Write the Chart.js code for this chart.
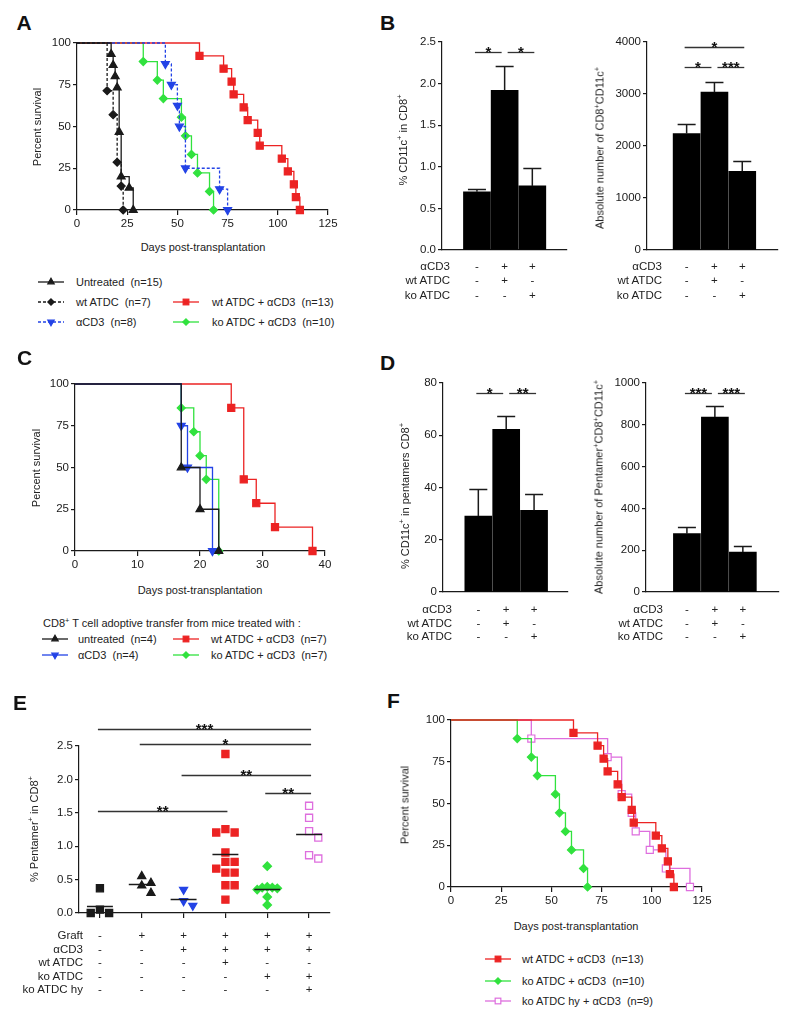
<!DOCTYPE html>
<html>
<head>
<meta charset="utf-8">
<title>ATDC survival and CD11c+ CD8+ T cells</title>
<script src="https://cdn.jsdelivr.net/npm/chart.js@4.4.1/dist/chart.umd.min.js"></script>
<style>
  body { margin: 0; background: #fff; }
  #page { position: relative; width: 800px; height: 1021px; overflow: hidden;
          font-family: "Liberation Sans", Arial, sans-serif; color: #222; }
  #page canvas { position: absolute; }
  #page svg { position: absolute; overflow: visible; }
  .t { position: absolute; white-space: pre; line-height: 1; }
  .letter { font-weight: bold; color: #111; }
  .rot { transform: translate(-50%, -50%) rotate(-90deg); }
  sup { font-size: 68%; line-height: 0; vertical-align: 0.55em; }
</style>
</head>
<body>
<div id="page"></div>
<script>
// --- A: survival after transplantation (day, % survival) ---
const aUntreatedDays = [0, 17, 18, 19, 20, 21, 22, 26, 28];
const aUntreatedSurv = [100, 93.3, 86.7, 80, 73.3, 46.7, 20, 13.3, 0];
const aWtDays = [0, 15, 18, 20, 22, 23];
const aWtSurv = [100, 71.4, 57.1, 28.6, 14.3, 0];
const aCd3Days = [0, 44, 47, 50, 51, 54, 71, 75];
const aCd3Surv = [100, 87.5, 75, 62.5, 50, 25, 12.5, 0];
const aWtCd3Days = [0, 61, 73, 77, 78, 83, 85, 90, 91, 102, 105, 108, 109, 111];
const aWtCd3Surv = [100, 92.3, 84.6, 76.9, 69.2, 61.5, 53.8, 46.2, 38.5, 30.8, 23.1, 15.4, 7.7, 0];
const aKoCd3Days = [0, 33, 40, 43, 52, 54, 57, 60, 66, 68];
const aKoCd3Surv = [100, 88.9, 77.8, 66.7, 55.6, 44.4, 33.3, 22.2, 11.1, 0];

// --- B: CD11c+ among CD8+ (mean, sem) ---
const bdGroups = ['untreated', 'wt ATDC + aCD3', 'ko ATDC + aCD3'];
const bdRowLabels = ['αCD3', 'wt ATDC', 'ko ATDC'];
const bdRowMarks = [['-', '+', '+'], ['-', '+', '-'], ['-', '-', '+']];
const bPctMean = [0.70, 1.92, 0.77];
const bPctSem = [0.03, 0.29, 0.22];
const bAbsMean = [2240, 3035, 1515];
const bAbsSem = [180, 200, 200];
const bPctSig = [[0, 1, 2.38, '*'], [1, 2, 2.38, '*']];
const bAbsSig = [[0, 2, 3900, '*'], [0, 1, 3520, '*'], [1, 2, 3520, '***']];

// --- C: survival after CD8+ T cell transfer ---
const cUntreatedDays = [0, 17, 20, 23];
const cUntreatedSurv = [100, 50, 25, 0];
const cCd3Days = [0, 17, 18, 22];
const cCd3Surv = [100, 75, 50, 0];
const cWtCd3Days = [0, 25, 27, 29, 32, 38];
const cWtCd3Surv = [100, 85.7, 42.9, 28.6, 14.3, 0];
const cKoCd3Days = [0, 17, 19, 20, 21, 23];
const cKoCd3Surv = [100, 85.7, 71.4, 57.1, 42.9, 0];

// --- D: CD11c+ among pentamer+ CD8+ ---
const dPctMean = [29.1, 62.3, 31.3];
const dPctSem = [10.2, 4.9, 6.2];
const dAbsMean = [279, 837, 191];
const dAbsSem = [32, 54, 27];
const dPctSig = [[0, 1, 76.2, '*'], [1, 2, 76.2, '**']];
const dAbsSig = [[0, 1, 952, '***'], [1, 2, 952, '***']];

// --- E: % pentamer+ in CD8+ per mouse ---
const eRowLabels = ['Graft', 'αCD3', 'wt ATDC', 'ko ATDC', 'ko ATDC hy'];
const eRowMarks = [
  ['-', '+', '+', '+', '+', '+'],
  ['-', '-', '+', '+', '+', '+'],
  ['-', '-', '-', '+', '-', '-'],
  ['-', '-', '-', '-', '+', '+'],
  ['-', '-', '-', '-', '-', '+']
];
const eNoGraft = [0.37, 0.0, 0.05, 0.0];
const eGraft = [0.55, 0.45, 0.30, 0.41];
const eCd3 = [0.35, 0.11, 0.18];
const eWtCd3 = [2.38, 1.255, 1.205, 1.205, 0.905, 0.765, 0.765, 0.665, 0.605, 0.605, 0.415, 0.415, 0.2];
const eKoCd3 = [0.70, 0.39, 0.38, 0.38, 0.37, 0.35, 0.24, 0.12];
const eKoHyCd3 = [1.605, 1.425, 1.225, 1.13, 0.815, 0.865];
const eSig = [[0, 5, 2.755, '***'], [1, 5, 2.525, '*'], [2, 5, 2.07, '**'], [4, 5, 1.795, '**'], [0, 3, 1.53, '**']];

// --- F: survival, ko ATDC hy ---
const fWtCd3Days = [0, 61, 73, 76, 78, 83, 85, 90, 91, 102, 105, 108, 109, 111];
const fWtCd3Surv = [100, 92.3, 84.6, 76.9, 69.2, 61.5, 53.8, 46.2, 38.5, 30.8, 23.1, 15.4, 7.7, 0];
const fKoCd3Days = [0, 33, 40, 43, 52, 54, 57, 60, 66, 68];
const fKoCd3Surv = [100, 88.9, 77.8, 66.7, 55.6, 44.4, 33.3, 22.2, 11.1, 0];
const fKoHyDays = [0, 40, 78, 85, 90, 92, 99, 107, 119];
const fKoHySurv = [100, 88.9, 77.8, 55.6, 44.4, 33.3, 22.2, 11.1, 0];

const FONT = '"Liberation Sans", Arial, sans-serif';
const INK = '#1a1a1a';
const RED = '#ec2323';
const GREEN = '#31e23e';
const BLUE = '#2343e6';
const PINK = '#de6ede';
const Y_W = 40, X_H = 22;
const tickFont = { family: FONT, size: 11.5 };

Chart.defaults.font.family = FONT;
Chart.defaults.color = INK;

const page = document.getElementById('page');

// ---------- helpers for text ----------
function addText(html, x, cy, size, align, cls) {
  const el = document.createElement('div');
  el.className = 't' + (cls ? ' ' + cls : '');
  el.innerHTML = html;
  el.style.fontSize = size + 'px';
  el.style.top = (cy - size / 2) + 'px';
  if (align === 'right') el.style.right = (800 - x) + 'px';
  else if (align === 'center') { el.style.left = x + 'px'; el.style.transform = 'translateX(-50%)'; }
  else el.style.left = x + 'px';
  page.appendChild(el);
  return el;
}

function addRotated(html, cx, cy, size) {
  const el = document.createElement('div');
  el.className = 't rot';
  el.innerHTML = html;
  el.style.fontSize = size + 'px';
  el.style.left = cx + 'px';
  el.style.top = cy + 'px';
  page.appendChild(el);
}

function letter(ch, x, capTop) {
  addText(ch, x, capTop - 2.8 + 10.5, 21, 'left', 'letter');
}

// marker shape in svg, same shapes as Chart.js point styles
function markerSvg(s, cx, cy) {
  const r = s.size * 0.8;
  const fill = s.open ? '#fff' : s.color;
  const st = `fill="${fill}" stroke="${s.color}" stroke-width="1.2"`;
  if (s.marker === 'rect') {
    const h = r * Math.SQRT1_2;
    return `<rect x="${cx - h}" y="${cy - h}" width="${2 * h}" height="${2 * h}" ${st}/>`;
  }
  if (s.marker === 'rectRot') {
    return `<polygon points="${cx},${cy - r} ${cx + r},${cy} ${cx},${cy + r} ${cx - r},${cy}" ${st}/>`;
  }
  const dir = s.marker === 'triangleDown' ? -1 : 1;
  return `<polygon points="${cx},${cy - dir * r} ${cx + 0.866 * r},${cy + dir * r / 2} ${cx - 0.866 * r},${cy + dir * r / 2}" ${st}/>`;
}

function legendItem(s, sx, tx, cy) {
  const ns = 'http://www.w3.org/2000/svg';
  const svg = document.createElementNS(ns, 'svg');
  svg.setAttribute('width', 26);
  svg.setAttribute('height', 12);
  svg.style.left = sx + 'px';
  svg.style.top = (cy - 6) + 'px';
  svg.innerHTML = `<line x1="0" y1="6" x2="26" y2="6" stroke="${s.color}" stroke-width="1.3"` +
    (s.dash ? ' stroke-dasharray="3 2"' : '') + '/>' + markerSvg(s, 13, 6);
  page.appendChild(svg);
  addText(s.label, tx, cy, 11, 'left');
}

// ---------- helpers for charts ----------
function makeCanvas(area, pad) {
  const c = document.createElement('canvas');
  c.width = area.r - area.l + pad.l + pad.r;
  c.height = area.b - area.t + pad.t + pad.b;
  c.style.left = (area.l - pad.l) + 'px';
  c.style.top = (area.t - pad.t) + 'px';
  page.appendChild(c);
  return c;
}

function baseOptions(pad, scales, plugins) {
  return {
    responsive: false,
    animation: false,
    events: [],
    layout: { padding: { left: pad.l - Y_W, top: pad.t, right: pad.r, bottom: pad.b - X_H } },
    scales,
    plugins: Object.assign({ legend: { display: false }, tooltip: { enabled: false } }, plugins || {})
  };
}

function yAxis(max, step, fmt) {
  return {
    min: 0, max,
    ticks: { stepSize: step, color: INK, font: tickFont, padding: 2, callback: fmt || (v => v) },
    grid: { drawOnChartArea: false, drawTicks: true, tickLength: 4, color: INK, lineWidth: 1.2 },
    border: { color: INK, width: 1.2 },
    afterFit: s => { s.width = Y_W; }
  };
}

function xLinear(min, max, step, showTicks) {
  return {
    type: 'linear', min, max,
    ticks: { display: !!step, stepSize: step || 1, color: INK, font: tickFont, padding: 2 },
    grid: { drawOnChartArea: false, drawTicks: !!showTicks, tickLength: 5, color: INK, lineWidth: 1.2 },
    border: { color: INK, width: 1.2 },
    afterFit: s => { s.height = X_H; }
  };
}

// significance brackets, stars above
const sigPlugin = {
  id: 'sigBars',
  afterDraw(chart, args, opts) {
    const items = opts.items || [];
    const { ctx, scales: { x, y } } = chart;
    const shares = (it, idx) => items.some(o => o !== it && o[2] === it[2] && (o[0] === idx || o[1] === idx));
    ctx.save();
    ctx.strokeStyle = '#333';
    ctx.lineWidth = 1.3;
    ctx.fillStyle = '#111';
    ctx.font = 'bold 15px ' + FONT;
    ctx.textAlign = 'center';
    ctx.textBaseline = 'alphabetic';
    items.forEach(it => {
      const x1 = x.getPixelForValue(it[0]) + (shares(it, it[0]) ? 3 : -2);
      const x2 = x.getPixelForValue(it[1]) + (shares(it, it[1]) ? -3 : 2);
      const py = Math.round(y.getPixelForValue(it[2])) + 0.5;
      ctx.beginPath();
      ctx.moveTo(x1, py);
      ctx.lineTo(x2, py);
      ctx.stroke();
      ctx.fillText(it[3], (x1 + x2) / 2, py + 4);
    });
    ctx.restore();
  }
};

// sem error bars, upper half only
const errorBars = {
  id: 'errorBars',
  afterDatasetsDraw(chart, args, opts) {
    const sem = opts.sem;
    if (!sem) return;
    const { ctx, scales: { y } } = chart;
    const means = chart.data.datasets[0].data;
    ctx.save();
    ctx.strokeStyle = INK;
    ctx.lineWidth = 1.5;
    chart.getDatasetMeta(0).data.forEach((bar, i) => {
      const top = Math.round(y.getPixelForValue(means[i].y + sem[i])) + 0.5;
      ctx.beginPath();
      ctx.moveTo(bar.x, bar.y);
      ctx.lineTo(bar.x, top);
      ctx.moveTo(bar.x - 9, top);
      ctx.lineTo(bar.x + 9, top);
      ctx.stroke();
    });
    ctx.restore();
  }
};

function addTable(chart, labelRight, firstY, gap, rowLabels, rowMarks) {
  const left = parseFloat(chart.canvas.style.left);
  rowLabels.forEach((lab, r) => {
    const cy = firstY + r * gap;
    addText(lab, labelRight, cy, 11.5, 'right');
    rowMarks[r].forEach((m, i) => addText(m, left + chart.scales.x.getPixelForValue(i), cy, 11.5, 'center'));
  });
}

function barChart(area, xMin, xMax, means, sem, yMax, yStep, sig, fmt) {
  const pad = { l: 45, t: 15, r: 22, b: 28 };
  return new Chart(makeCanvas(area, pad), {
    type: 'bar',
    data: {
      datasets: [{
        data: means.map((m, i) => ({ x: i, y: m })),
        backgroundColor: '#000',
        barThickness: 27
      }]
    },
    options: baseOptions(pad, { x: xLinear(xMin, xMax, 0, false), y: yAxis(yMax, yStep, fmt) },
      { errorBars: { sem }, sigBars: { items: sig } }),
    plugins: [errorBars, sigPlugin]
  });
}

function kmDataset(s) {
  return {
    data: s.days.map((d, i) => ({ x: d, y: s.surv[i] })),
    stepped: true,
    borderColor: s.color,
    borderWidth: 1.3,
    borderDash: s.dash ? [3, 2] : [],
    fill: false,
    clip: false,
    pointStyle: s.marker === 'triangleDown' ? 'triangle' : s.marker,
    pointRotation: s.marker === 'triangleDown' ? 180 : 0,
    pointRadius: c => (c.dataIndex === 0 ? 0 : s.size),
    pointBackgroundColor: s.open ? '#fff' : s.color,
    pointBorderColor: s.color,
    pointBorderWidth: 1.2
  };
}

function survivalChart(area, xMax, xStep, series) {
  const pad = { l: 45, t: 15, r: 22, b: 28 };
  return new Chart(makeCanvas(area, pad), {
    type: 'line',
    data: { datasets: series.map(kmDataset) },
    options: baseOptions(pad, { x: xLinear(0, xMax, xStep, true), y: yAxis(100, 25) })
  });
}

// ---------- A ----------
const seriesA = [
  { label: 'Untreated  (n=15)', days: aUntreatedDays, surv: aUntreatedSurv, color: INK, marker: 'triangle', size: 4.6 },
  { label: 'wt ATDC  (n=7)', days: aWtDays, surv: aWtSurv, color: INK, marker: 'rectRot', size: 4, dash: true },
  { label: 'αCD3  (n=8)', days: aCd3Days, surv: aCd3Surv, color: BLUE, marker: 'triangleDown', size: 4.6, dash: true },
  { label: 'wt ATDC + αCD3  (n=13)', days: aWtCd3Days, surv: aWtCd3Surv, color: RED, marker: 'rect', size: 5 },
  { label: 'ko ATDC + αCD3  (n=10)', days: aKoCd3Days, surv: aKoCd3Surv, color: GREEN, marker: 'rectRot', size: 4 }
];
survivalChart({ l: 77, t: 43, r: 328, b: 210 }, 125, 25, seriesA);
letter('A', 16.5, 15);
addRotated('Percent survival', 37, 127, 11);
addText('Days post-transplantation', 203, 247, 11, 'center');
legendItem(seriesA[0], 38, 76, 282);
legendItem(seriesA[1], 38, 76, 302);
legendItem(seriesA[2], 38, 76, 322);
legendItem(seriesA[3], 173, 212, 302);
legendItem(seriesA[4], 173, 212, 322);

// ---------- B ----------
letter('B', 380, 15);
const chartB1 = barChart({ l: 442, t: 42, r: 567, b: 250 }, -0.51, 2.5, bPctMean, bPctSem, 2.5, 0.5, bPctSig, v => v.toFixed(1));
addRotated('% CD11c<sup>+</sup> in CD8<sup>+</sup>', 403, 140, 11);
addTable(chartB1, 450, 267, 14.2, bdRowLabels, bdRowMarks);
const chartB2 = barChart({ l: 647, t: 42, r: 778, b: 250 }, -0.64, 2.5, bAbsMean, bAbsSem, 4000, 1000, bAbsSig);
addRotated('Absolute number of CD8<sup>+</sup>CD11c<sup>+</sup>', 600, 148, 11);
addTable(chartB2, 662, 267, 14.2, bdRowLabels, bdRowMarks);

// ---------- C ----------
const seriesC = [
  { label: 'untreated  (n=4)', days: cUntreatedDays, surv: cUntreatedSurv, color: INK, marker: 'triangle', size: 4.6 },
  { label: 'αCD3  (n=4)', days: cCd3Days, surv: cCd3Surv, color: BLUE, marker: 'triangleDown', size: 4.6 },
  { label: 'wt ATDC + αCD3  (n=7)', days: cWtCd3Days, surv: cWtCd3Surv, color: RED, marker: 'rect', size: 5 },
  { label: 'ko ATDC + αCD3  (n=7)', days: cKoCd3Days, surv: cKoCd3Surv, color: GREEN, marker: 'rectRot', size: 4 }
];
survivalChart({ l: 75, t: 384, r: 325, b: 551 }, 40, 10, seriesC);
letter('C', 17, 350);
addRotated('Percent survival', 36, 468, 11);
addText('Days post-transplantation', 200, 590, 11, 'center');
addText('CD8<sup>+</sup> T cell adoptive transfer from mice treated with :', 43, 623, 11, 'left');
legendItem(seriesC[0], 42, 78, 639);
legendItem(seriesC[1], 42, 78, 655);
legendItem(seriesC[2], 173, 211, 639);
legendItem(seriesC[3], 173, 211, 655);

// ---------- D ----------
letter('D', 380, 355);
const chartD1 = barChart({ l: 443, t: 383, r: 568, b: 592 }, -0.52, 2.47, dPctMean, dPctSem, 80, 20, dPctSig);
addRotated('% CD11c<sup>+</sup> in pentamers CD8<sup>+</sup>', 405, 496, 11);
addTable(chartD1, 452, 610, 13.4, bdRowLabels, bdRowMarks);
const chartD2 = barChart({ l: 646, t: 383, r: 779, b: 592 }, -0.67, 2.5, dAbsMean, dAbsSem, 1000, 200, dAbsSig);
addRotated('Absolute number of Pentamer<sup>+</sup>CD8<sup>+</sup>CD11c<sup>+</sup>', 599, 487, 11);
addTable(chartD2, 663, 610, 13.4, bdRowLabels, bdRowMarks);

// ---------- E ----------
const eGroups = [eNoGraft, eGraft, eCd3, eWtCd3, eKoCd3, eKoHyCd3];
const eStyles = [
  { color: INK, marker: 'rect', size: 5, spread: 0.22 },
  { color: INK, marker: 'triangle', size: 4.6, spread: 0.22 },
  { color: BLUE, marker: 'triangleDown', size: 4.6, spread: 0.22 },
  { color: RED, marker: 'rect', size: 5, spread: 0.22 },
  { color: GREEN, marker: 'rectRot', size: 4.2, spread: 0.12 },
  { color: PINK, marker: 'rect', size: 5, open: true, spread: 0.22 }
];

// spread overlapping dots sideways (0, +1, -1, +2 ... slots)
function swarm(values, center, step, gap) {
  const placed = [];
  const xs = [];
  values.map((v, i) => i).sort((a, b) => values[b] - values[a]).forEach(i => {
    for (let k = 0; ; k++) {
      const slot = k === 0 ? 0 : (k % 2 ? (k + 1) / 2 : -k / 2);
      if (!placed.some(p => p.slot === slot && Math.abs(p.v - values[i]) < gap)) {
        placed.push({ slot, v: values[i] });
        xs[i] = center + slot * step;
        break;
      }
    }
  });
  return values.map((v, i) => ({ x: xs[i], y: v }));
}

const meanLines = {
  id: 'meanLines',
  afterDatasetsDraw(chart) {
    const { ctx, scales: { x, y } } = chart;
    ctx.save();
    ctx.strokeStyle = INK;
    ctx.lineWidth = 1.5;
    eGroups.forEach((vals, i) => {
      const mean = vals.reduce((a, b) => a + b, 0) / vals.length;
      const py = Math.round(y.getPixelForValue(mean)) + 0.5;
      ctx.beginPath();
      ctx.moveTo(x.getPixelForValue(i - 0.31), py);
      ctx.lineTo(x.getPixelForValue(i + 0.31), py);
      ctx.stroke();
    });
    ctx.restore();
  }
};

const padE = { l: 45, t: 40, r: 22, b: 28 };
const eX = xLinear(-0.5, 5.5, 0, true);
eX.afterBuildTicks = s => { s.ticks = eGroups.map((g, i) => ({ value: i })); };
const chartE = new Chart(makeCanvas({ l: 79, t: 746, r: 330, b: 913 }, padE), {
  type: 'scatter',
  data: {
    datasets: eGroups.map((vals, i) => ({
      data: swarm(vals, i, eStyles[i].spread, 0.12),
      clip: false,
      pointStyle: eStyles[i].marker === 'triangleDown' ? 'triangle' : eStyles[i].marker,
      pointRotation: eStyles[i].marker === 'triangleDown' ? 180 : 0,
      pointRadius: eStyles[i].size,
      pointBackgroundColor: eStyles[i].open ? '#fff' : eStyles[i].color,
      pointBorderColor: eStyles[i].color,
      pointBorderWidth: 1.3
    }))
  },
  options: baseOptions(padE, { x: eX, y: yAxis(2.5, 0.5, v => v.toFixed(1)) }, { sigBars: { items: eSig } }),
  plugins: [meanLines, sigPlugin]
});
letter('E', 13, 695);
addRotated('% Pentamer<sup>+</sup> in CD8<sup>+</sup>', 34, 829, 11);
addTable(chartE, 83, 936, 13.5, eRowLabels, eRowMarks);

// ---------- F ----------
const seriesF = [
  { label: 'wt ATDC + αCD3  (n=13)', days: fWtCd3Days, surv: fWtCd3Surv, color: RED, marker: 'rect', size: 5 },
  { label: 'ko ATDC + αCD3  (n=10)', days: fKoCd3Days, surv: fKoCd3Surv, color: GREEN, marker: 'rectRot', size: 4 },
  { label: 'ko ATDC hy + αCD3  (n=9)', days: fKoHyDays, surv: fKoHySurv, color: PINK, marker: 'rect', size: 5, open: true }
];
survivalChart({ l: 451, t: 720, r: 702, b: 887 }, 125, 25, seriesF);
letter('F', 387, 693);
addRotated('Percent survival', 405, 805, 11);
addText('Days post-transplantation', 576, 926, 11, 'center');
legendItem(seriesF[0], 485, 522, 959);
legendItem(seriesF[1], 485, 522, 981);
legendItem(seriesF[2], 485, 522, 1001);
</script>
</body>
</html>
